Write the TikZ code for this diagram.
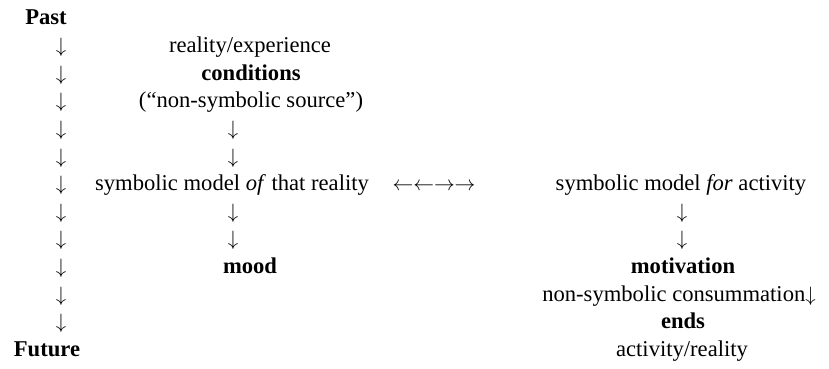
\documentclass[tikz,border=0pt]{standalone}
\usepackage{fontspec}
\setmainfont{Liberation Serif}
\begin{document}
\begin{tikzpicture}[x=1pt,y=-1pt,
  txt/.style={inner sep=0pt, outer sep=0pt, anchor=base,
    font=\fontsize{22.6}{27}\selectfont},
  key/.style={txt, font=\fontsize{22.6}{27}\selectfont\bfseries},
  dn/.style={txt}]
\useasboundingbox (0,0) rectangle (829,369);
\def\rowA{25}\def\rowstep{27.6}
% time axis
\node[key] (past) at (46,\rowA) {Past};
\foreach \i in {1,...,11}
  \node[dn] (la\i) at (61,{\rowA+\rowstep*\i}) {$\downarrow$};
\node[key] (future) at (47,{\rowA+\rowstep*12}) {Future};
% left column: model of reality
\node[txt] (reality) at (250,{\rowA+\rowstep*1}) {reality/experience};
\node[key] (cond) at (251,{\rowA+\rowstep*2}) {conditions};
\node[txt] (source) at (251,{\rowA+\rowstep*3}) {(“non-symbolic source”)};
\node[dn] (ma1) at (233,{\rowA+\rowstep*4}) {$\downarrow$};
\node[dn] (ma2) at (233,{\rowA+\rowstep*5}) {$\downarrow$};
\node[txt] (modelof) at (232,{\rowA+\rowstep*6}) {symbolic model \textit{of} that reality};
\node[dn] (ma3) at (233,{\rowA+\rowstep*7}) {$\downarrow$};
\node[dn] (ma4) at (233,{\rowA+\rowstep*8}) {$\downarrow$};
\node[key] (mood) at (250,{\rowA+\rowstep*9}) {mood};
% exchange between the two models
\node[txt] (swap) at (434,{\rowA+\rowstep*6}) {$\leftarrow\leftarrow\rightarrow\rightarrow$};
% right column: model for activity
\node[txt] (modelfor) at (681,{\rowA+\rowstep*6}) {symbolic model \textit{for} activity};
\node[dn] (ra1) at (682,{\rowA+\rowstep*7}) {$\downarrow$};
\node[dn] (ra2) at (682,{\rowA+\rowstep*8}) {$\downarrow$};
\node[key] (motiv) at (683,{\rowA+\rowstep*9}) {motivation};
\node[txt] (consum) at (679,{\rowA+\rowstep*10}) {non-symbolic consummation$\downarrow$};
\node[key] (ends) at (683,{\rowA+\rowstep*11}) {ends};
\node[txt] (activity) at (682,{\rowA+\rowstep*12}) {activity/reality};
\end{tikzpicture}
\end{document}
